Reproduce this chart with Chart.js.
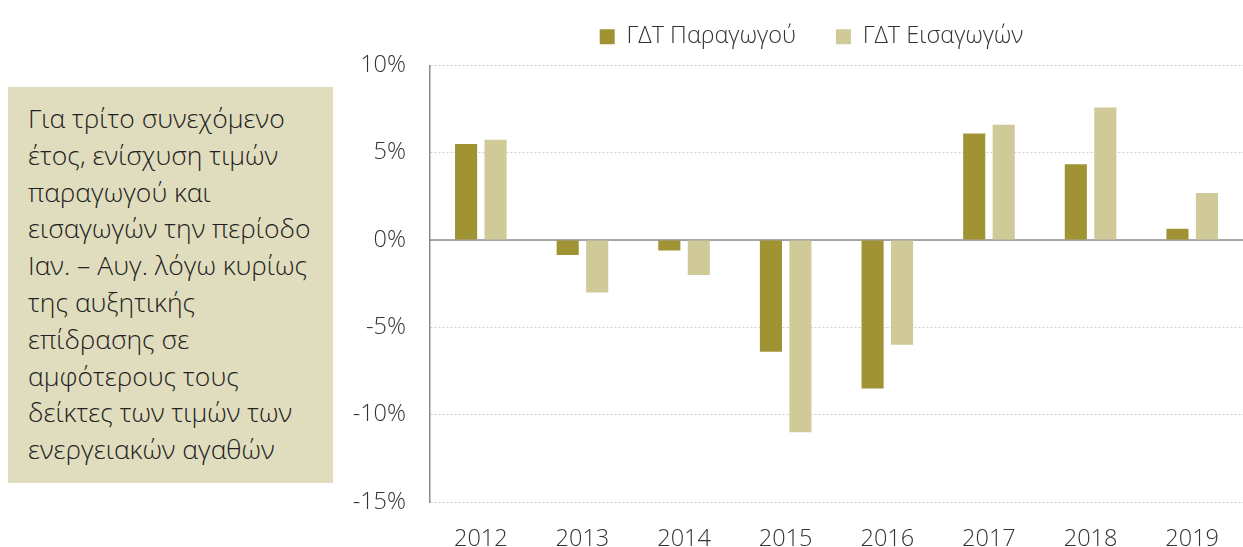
<!DOCTYPE html>
<html>
<head>
<meta charset="utf-8">
<script src="https://cdn.jsdelivr.net/npm/chart.js@4"></script>
<style>
  body { margin: 0; background: #fff; width: 1243px; height: 547px; position: relative; overflow: hidden; }
  #note {
    position: absolute; left: 8px; top: 87px; width: 325px; height: 396px;
    background: #e0ddbe; box-sizing: border-box; padding: 13px 0 0 20px;
    font-family: "Open Sans", sans-serif; font-weight: 300; font-size: 26.5px; line-height: 36.8px; color: #222;
  }
  #wrap { position: absolute; left: 340px; top: 0; width: 903px; height: 547px; }
</style>
</head>
<body>
<div id="note">Για τρίτο συνεχόμενο<br>έτος, ενίσχυση τιμών<br>παραγωγού και<br>εισαγωγών την περίοδο<br>Ιαν. – Αυγ. λόγω κυρίως<br>της αυξητικής<br>επίδρασης σε<br>αμφότερους τους<br>δείκτες των τιμών των<br>ενεργειακών αγαθών</div>
<div id="wrap"><canvas id="chart"></canvas></div>
<script>
// === DATA ===
const years = ["2012", "2013", "2014", "2015", "2016", "2017", "2018", "2019"];
const producerPrices = [5.5, -0.85, -0.6, -6.4, -8.5, 6.1, 4.35, 0.65];
const importPrices = [5.75, -3.0, -2.0, -11.0, -6.0, 6.6, 7.6, 2.7];
const seriesNames = ["ΓΔΤ Παραγωγού", "ΓΔΤ Εισαγωγών"];

// zero line + legend offset
const extras = {
  id: "extras",
  afterLayout(chart) {
    const lg = chart.legend;
    lg.left += 20;
    lg.right += 20;
    lg.top -= 7;
    lg.bottom -= 7;
  },
  beforeDatasetsDraw(chart) {
    const y = chart.scales.y.getPixelForValue(0);
    const ctx = chart.ctx;
    ctx.save();
    ctx.strokeStyle = "#8c8c8c";
    ctx.lineWidth = 1.5;
    ctx.beginPath();
    ctx.moveTo(chart.chartArea.left, y);
    ctx.lineTo(chart.chartArea.right, y);
    ctx.stroke();
    ctx.restore();
  }
};

const font = { family: "Open Sans", size: 23.5, weight: 300 };

new Chart(document.getElementById("chart"), {
  type: "bar",
  data: {
    labels: years,
    datasets: [
      { label: seriesNames[0], data: producerPrices, backgroundColor: "#a09334" },
      { label: seriesNames[1], data: importPrices, backgroundColor: "#cfca98" }
    ]
  },
  options: {
    responsive: true,
    maintainAspectRatio: false,
    animation: false,
    categoryPercentage: 0.58,
    barPercentage: 0.75,
    layout: { padding: { left: 0, top: -8, right: 0, bottom: 0 } },
    plugins: {
      legend: {
        position: "top",
        labels: { boxWidth: 15, boxHeight: 15, padding: 40, color: "#333", font: font }
      },
      tooltip: { enabled: false }
    },
    scales: {
      x: {
        grid: { display: false },
        border: { display: false },
        ticks: { color: "#333", font: font, padding: 15 },
        afterFit(scale) { scale.height = 45; }
      },
      y: {
        min: -15,
        max: 10,
        ticks: { stepSize: 5, color: "#333", font: font, padding: 24, callback: v => v + "%" },
        grid: { color: "#cfcfcf", drawTicks: false },
        border: { color: "#8c8c8c", width: 1.5, dash: [2, 2] },
        afterFit(scale) { scale.width = 90; }
      }
    }
  },
  plugins: [extras]
});
</script>
</body>
</html>
